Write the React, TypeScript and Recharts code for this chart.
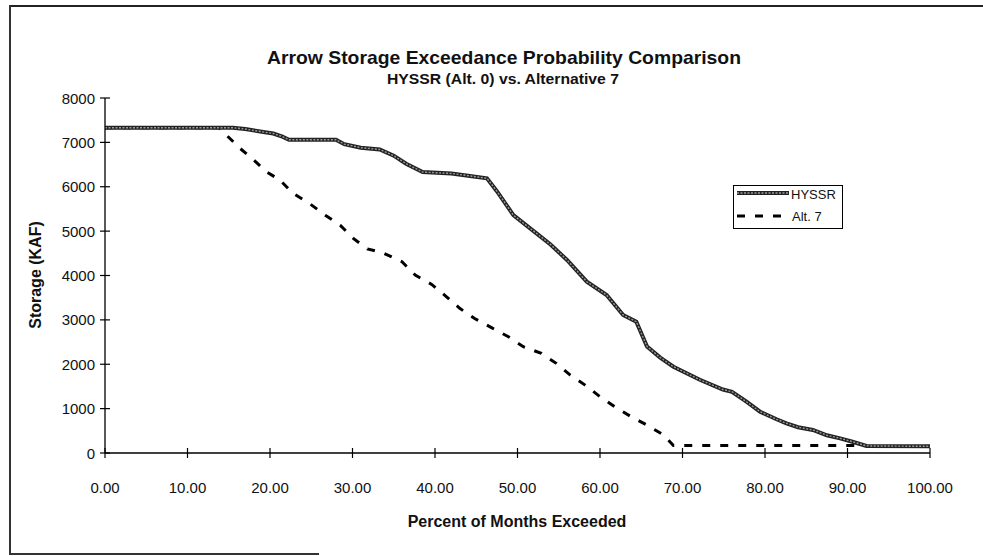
import React from 'react';
import { LineChart, Line, XAxis, YAxis, Legend } from 'recharts';

// HYSSR (Alt. 0) exceedance curve
const hyssrPct = [
  0, 15.5, 17, 19, 20.4, 21.5, 22.3, 28, 29, 31, 33.3, 35, 36.5, 38.5, 42, 44, 46.3,
  47.5, 49.5, 52.3, 54, 56, 58.4, 60.8, 62.8, 64.4, 65.7, 67.3, 68.9, 72.1, 74.9, 76,
  77.8, 79.4, 81.4, 82.6, 84, 85.8, 87.5, 89.1, 90.5, 92.3, 100,
];
const hyssrKaf = [
  7330, 7330, 7300, 7240, 7200, 7130, 7060, 7060, 6960, 6880, 6840, 6700, 6520, 6330, 6300, 6250, 6190,
  5900, 5360, 4950, 4700, 4350, 3860, 3560, 3110, 2960, 2400, 2150, 1945, 1650, 1430, 1380,
  1150, 930, 760, 670, 580, 520, 400, 330, 260, 160, 150,
];

// Alternative 7
const alt7Pct = [
  0, 13.8, 16.4, 17.8, 19.6, 21.2, 22.8, 24.8, 26.7, 28.5, 30.1, 31.8, 33.7, 36, 37.6,
  39.6, 41.4, 43, 44.8, 46.9, 48.9, 50.7, 52.9, 54.7, 56.4, 58.2, 60, 61.8, 63.8, 65.7,
  67.7, 68.9, 91,
];
const alt7Kaf = [
  7330, 7330, 6860, 6640, 6335, 6150, 5850, 5620, 5360, 5135, 4835, 4600, 4510, 4310, 4010,
  3800, 3520, 3260, 3030, 2820, 2620, 2395, 2245, 2020, 1755, 1530, 1270, 1040, 815, 630,
  405, 170, 170,
];

const xTicks = [0, 10, 20, 30, 40, 50, 60, 70, 80, 90, 100];
const yTicks = [0, 1000, 2000, 3000, 4000, 5000, 6000, 7000, 8000];

const hyssrData = hyssrPct.map((p, i) => ({ pct: p, kaf: hyssrKaf[i] }));
const alt7Data = alt7Pct.map((p, i) => ({ pct: p, kaf: alt7Kaf[i] }));

const SANS = "'Liberation Sans', Arial, Helvetica, sans-serif";
const NARROW = "'Liberation Sans Narrow', 'Arial Narrow', 'Liberation Sans', Arial, sans-serif";

const Y_MARGIN = 10;
const X_MARGIN = 34;

const YTick = (props: any) => {
  const { x, y, payload } = props;
  const ax = x + Y_MARGIN;
  return (
    <g>
      <line x1={ax - 5} x2={ax + 5} y1={y} y2={y} stroke="#000" strokeWidth={1.2} />
      <text x={x} y={y} textAnchor="end" dominantBaseline="central" fontSize={15} fontFamily={SANS} fill="#111">
        {payload.value}
      </text>
    </g>
  );
};

const XTick = (props: any) => {
  const { x, y, payload } = props;
  const ay = y - X_MARGIN;
  return (
    <g>
      <line x1={x} x2={x} y1={ay - 5} y2={ay + 5} stroke="#000" strokeWidth={1.2} />
      <text x={x} y={y} textAnchor="middle" dominantBaseline="central" fontSize={15} fontFamily={SANS} fill="#111">
        {Number(payload.value).toFixed(2)}
      </text>
    </g>
  );
};

const LegendBox = () => (
  <svg width={111} height={45} style={{ display: 'block' }}>
    <rect x={0.5} y={0.5} width={109} height={43} fill="#fff" stroke="#000" strokeWidth={1} />
    <line x1={4} x2={56} y1={8} y2={8} stroke="#222" strokeWidth={4} />
    <line x1={4} x2={56} y1={8} y2={8} stroke="#999" strokeWidth={1.4} strokeDasharray="2 1.5" />
    <text x={58} y={14} fontSize={13} fontFamily={SANS} fill="#111">HYSSR</text>
    <line x1={4} x2={56} y1={31} y2={31} stroke="#000" strokeWidth={3} strokeDasharray="8 10" />
    <text x={59} y={36} fontSize={13} fontFamily={SANS} fill="#111">Alt. 7</text>
  </svg>
);

export default function App() {
  return (
    <div style={{ position: 'absolute', left: 0, top: 0, width: 983, height: 556, background: '#fff', overflow: 'hidden' }}>
      {/* scanned page frame */}
      <div style={{ position: 'absolute', left: 9, top: 5, width: 980, height: 0, borderTop: '2px solid #222' }} />
      <div style={{ position: 'absolute', left: 9, top: 5, width: 0, height: 549, borderLeft: '2px solid #333' }} />
      <div style={{ position: 'absolute', left: 9, top: 553, width: 310, height: 0, borderTop: '2px solid #333' }} />

      <div style={{ position: 'absolute', left: 0, top: 0 }}>
        <LineChart width={983} height={556} margin={{ top: 98, right: 53, bottom: 43, left: 0 }}>
          <XAxis
            type="number"
            dataKey="pct"
            domain={[0, 100]}
            ticks={xTicks}
            interval={0}
            height={60}
            tickSize={0}
            tickMargin={X_MARGIN}
            tickLine={false}
            axisLine={{ stroke: '#000', strokeWidth: 1.3 }}
            tick={<XTick />}
            allowDuplicatedCategory={false}
          />
          <YAxis
            type="number"
            dataKey="kaf"
            domain={[0, 8000]}
            ticks={yTicks}
            interval={0}
            width={105}
            tickSize={0}
            tickMargin={Y_MARGIN}
            tickLine={false}
            axisLine={{ stroke: '#000', strokeWidth: 1.3 }}
            tick={<YTick />}
          />
          <Legend
            layout="horizontal"
            verticalAlign="middle"
            align="center"
            content={<LegendBox />}
            wrapperStyle={{ position: 'absolute', left: 733, top: 185, width: 111, height: 45 }}
          />
          <Line
            data={alt7Data}
            dataKey="kaf"
            name="Alt. 7"
            type="linear"
            stroke="#000"
            strokeWidth={3}
            strokeDasharray="8 10"
            dot={false}
            isAnimationActive={false}
          />
          <Line
            data={hyssrData}
            dataKey="kaf"
            name="HYSSR"
            type="linear"
            stroke="#222"
            strokeWidth={4}
            dot={false}
            isAnimationActive={false}
          />
          <Line
            data={hyssrData}
            dataKey="kaf"
            name="HYSSR texture"
            type="linear"
            stroke="#999"
            strokeWidth={1.4}
            strokeDasharray="2 1.5"
            dot={false}
            legendType="none"
            isAnimationActive={false}
          />
        </LineChart>
      </div>

      {/* titles */}
      <svg width={983} height={556} style={{ position: 'absolute', left: 0, top: 0, pointerEvents: 'none' }}>
        <text x={504} y={64} textAnchor="middle" fontSize={19} fontWeight="bold" fontFamily={NARROW} fill="#111"
          textLength={474} lengthAdjust="spacingAndGlyphs">
          Arrow Storage Exceedance Probability Comparison
        </text>
        <text x={503} y={84} textAnchor="middle" fontSize={15} fontWeight="bold" fontFamily={NARROW} fill="#111"
          textLength={232} lengthAdjust="spacingAndGlyphs">
          HYSSR (Alt. 0) vs. Alternative 7
        </text>
        <text x={517} y={527} textAnchor="middle" fontSize={16} fontWeight="bold" fontFamily={SANS} fill="#111">
          Percent of Months Exceeded
        </text>
        <text x={0} y={0} transform="translate(41 275) rotate(-90)" textAnchor="middle" fontSize={16} fontWeight="bold" fontFamily={SANS} fill="#111">
          Storage (KAF)
        </text>
      </svg>
    </div>
  );
}
